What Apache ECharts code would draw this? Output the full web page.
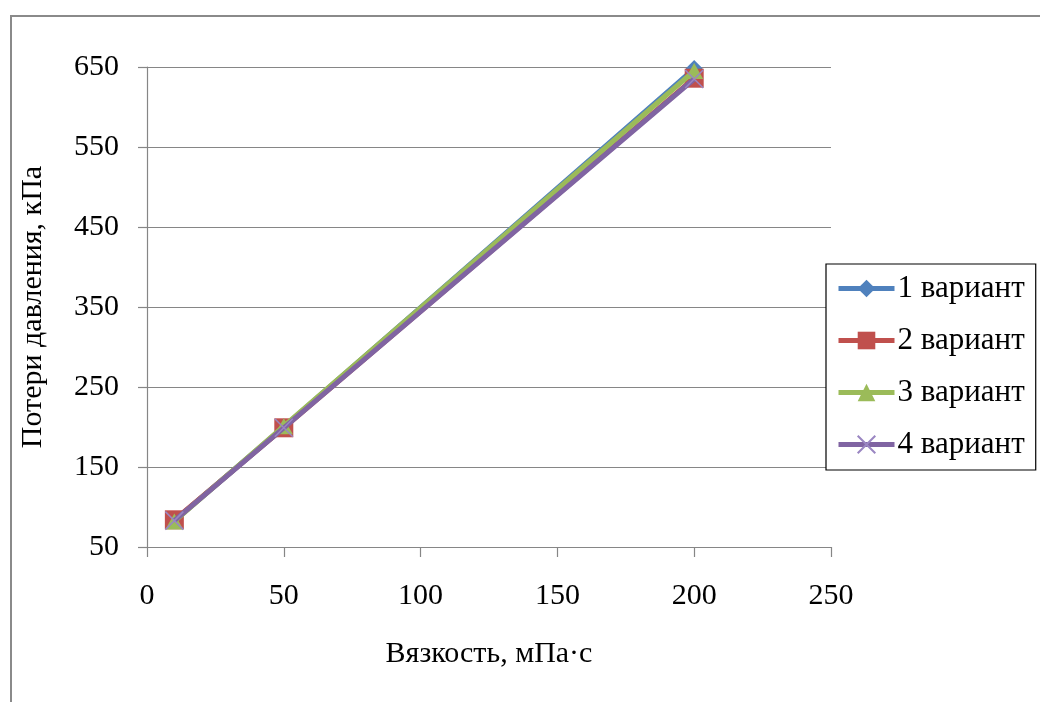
<!DOCTYPE html>
<html>
<head>
<meta charset="utf-8">
<script src="https://cdn.jsdelivr.net/npm/echarts@6/dist/echarts.min.js"></script>
<style>
html,body{margin:0;padding:0;background:#fff;}
#chart{width:1040px;height:702px;}
</style>
</head>
<body>
<div id="chart"></div>
<script>
const viscosity = [10, 50, 200];
const variant1 = [83, 200, 648];
const variant2 = [84, 199, 636];
const variant3 = [82, 201, 645];
const variant4 = [83, 199, 635];
const seriesNames = ['1 вариант', '2 вариант', '3 вариант', '4 вариант'];
const yTicks = [50, 150, 250, 350, 450, 550, 650];
const xTitle = 'Вязкость, мПа·с';
const yTitle = 'Потери давления, кПа';

const FONT = '"Liberation Serif", "Times New Roman", serif';
const colors = ['#4F81BD', '#C0504D', '#9BBB59', '#8064A2'];
const symbols = ['diamond', 'rect', 'triangle', 'path://M0,0L10,10M10,0L0,10'];
const symbolSizes = [[17, 17], [19, 19], [18, 16], [18, 18]];
const allData = [variant1, variant2, variant3, variant4];

const chart = echarts.init(document.getElementById('chart'), null, {renderer: 'canvas'});

const series = allData.map((vals, i) => ({
  name: seriesNames[i],
  type: 'line',
  data: viscosity.map((x, j) => [x, vals[j]]),
  symbol: symbols[i],
  symbolSize: symbolSizes[i],
  showAllSymbol: true,
  lineStyle: {color: colors[i], width: 5},
  itemStyle: i === 3
    ? {color: 'rgba(0,0,0,0)', borderColor: '#9A86C2', borderWidth: 1.5}
    : {color: colors[i], borderWidth: 0},
  emphasis: {disabled: true},
  animation: false,
  z: 2 + i
}));

chart.setOption({
  backgroundColor: '#ffffff',
  animation: false,
  graphic: [{
    type: 'rect',
    z: -10,
    shape: {x: 11, y: 16, width: 1200, height: 900},
    style: {fill: 'none', stroke: '#8a8a8a', lineWidth: 2}
  }],
  grid: {left: 147, top: 67, right: 209, bottom: 155, containLabel: false},
  legend: {
    orient: 'vertical',
    left: 826,
    top: 264,
    padding: [9, 11, 10, 10],
    itemWidth: 56,
    itemHeight: 22,
    itemGap: 21,
    borderColor: '#000',
    borderWidth: 1.2,
    backgroundColor: '#fff',
    lineStyle: {width: 5},
    textStyle: {fontFamily: FONT, fontSize: 31, color: '#000', padding: [0, 0, 0, -2]},
    data: seriesNames
  },
  xAxis: {
    type: 'value',
    min: 0,
    max: 250,
    interval: 50,
    name: xTitle,
    nameLocation: 'middle',
    nameGap: 92,
    nameTextStyle: {fontFamily: FONT, fontSize: 30, color: '#000'},
    axisLine: {show: true, lineStyle: {color: '#868686', width: 1.2}},
    axisTick: {show: true, inside: false, length: 10, lineStyle: {color: '#868686', width: 1.2}},
    axisLabel: {fontFamily: FONT, fontSize: 30, color: '#000', margin: 34},
    splitLine: {show: false}
  },
  yAxis: {
    type: 'value',
    min: 50,
    max: 650,
    name: yTitle,
    nameLocation: 'middle',
    nameRotate: 90,
    nameGap: 99,
    nameTextStyle: {fontFamily: FONT, fontSize: 30, color: '#000'},
    axisLine: {show: true, lineStyle: {color: '#868686', width: 1.2}},
    axisTick: {show: true, inside: false, length: 9, customValues: yTicks, lineStyle: {color: '#868686', width: 1.2}},
    axisLabel: {fontFamily: FONT, fontSize: 30, color: '#000', margin: 28, customValues: yTicks},
    splitLine: {show: true, lineStyle: {color: '#868686', width: 1.2}}
  },
  series: series
});
</script>
</body>
</html>
